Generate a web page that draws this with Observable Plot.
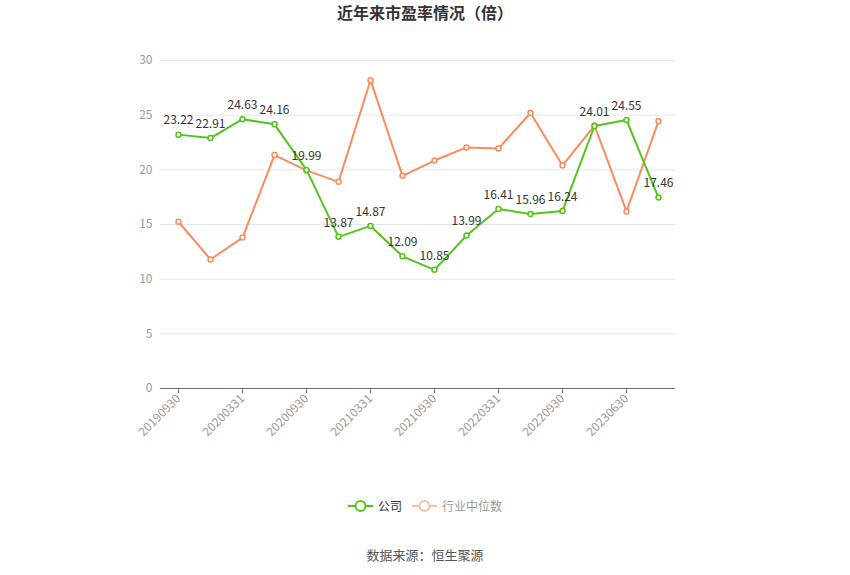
<!DOCTYPE html>
<html><head><meta charset="utf-8">
<script src="https://cdn.jsdelivr.net/npm/d3@7"></script>
<script src="https://cdn.jsdelivr.net/npm/@observablehq/plot@0.6"></script>
<style>
body{margin:0;background:#fff;font-family:"Noto Sans CJK SC","Noto Sans",sans-serif}
#wrap{position:relative;width:850px;height:575px;overflow:hidden}
#title{position:absolute;left:0;width:850px;top:0px;text-align:center;font-size:16px;font-weight:bold;color:#333}
#chart{position:absolute;left:0;top:0}
#legend{position:absolute;left:0;width:850px;top:497px;display:flex;justify-content:center;align-items:center;font-size:12px}
.item{display:flex;align-items:center;margin:0 5px}
.item span{margin-left:5px}
#caption{position:absolute;left:0;width:850px;top:545px;text-align:center;font-size:13px;color:#555}
</style></head>
<body>
<div id="wrap">
<div id="title">近年来市盈率情况（倍）</div>
<div id="chart"></div>
<div id="legend">
  <div class="item"><svg width="25" height="14"><line x1="0" y1="7" x2="25" y2="7" stroke="#52c41a" stroke-width="2"/><circle cx="12.5" cy="7" r="5" fill="#fff" stroke="#52c41a" stroke-width="2"/></svg><span style="color:#333">公司</span></div>
  <div class="item"><svg width="25" height="14"><line x1="0" y1="7" x2="25" y2="7" stroke="#fcbfa6" stroke-width="2"/><circle cx="12.5" cy="7" r="5" fill="#fff" stroke="#fcbfa6" stroke-width="2"/></svg><span style="color:#999">行业中位数</span></div>
</div>
<div id="caption">数据来源：恒生聚源</div>
</div>
<script>
const dates = ["20190930","20191231","20200331","20200630","20200930","20201231","20210331","20210630","20210930","20211231","20220331","20220630","20220930","20230331","20230630","20230930"];
const company = [23.22,22.91,24.63,24.16,19.99,13.87,14.87,12.09,10.85,13.99,16.41,15.96,16.24,24.01,24.55,17.46];
const industry = [15.25,11.8,13.8,21.35,19.95,18.9,28.2,19.45,20.85,22.05,21.95,25.2,20.4,24.05,16.2,24.45];
const yTicks = [0,5,10,15,20,25,30];
const xTickLabels = dates.filter((d,i)=>i%2===0);

const green = "#52c41a", orange = "#fa8b5c";
const comp = dates.map((d,i)=>({date:d, value:company[i]}));
const ind = dates.map((d,i)=>({date:d, value:industry[i]}));

const plot = Plot.plot({
  width: 850, height: 470,
  marginLeft: 160, marginRight: 175, marginTop: 60, marginBottom: 82,
  style: {fontFamily: '"Noto Sans CJK SC","Noto Sans",sans-serif', fontSize: "12px", background: "transparent"},
  x: {type: "point", domain: dates, padding: 0.5},
  y: {domain: [0, 30]},
  marks: [
    Plot.ruleY(yTicks.filter(t=>t>0), {stroke: "#e0e6f1", strokeWidth: 1}),
    Plot.axisY({ticks: yTicks, tickSize: 0, tickPadding: 8, fill: "#999", label: null, fontSize: 12}),
    Plot.axisX({ticks: xTickLabels, tickRotate: -45, tickSize: 5, stroke: "#6e7079", fill: "#999", label: null, fontSize: 12, tickPadding: 3}),
    Plot.ruleY([0], {stroke: "#6e7079", strokeWidth: 1}),
    Plot.lineY(ind, {x: "date", y: "value", stroke: orange, strokeWidth: 2}),
    Plot.lineY(comp, {x: "date", y: "value", stroke: green, strokeWidth: 2}),
    Plot.dot(ind, {x: "date", y: "value", r: 2.5, fill: "#fff", stroke: orange, strokeWidth: 1.5}),
    Plot.dot(comp, {x: "date", y: "value", r: 2.5, fill: "#fff", stroke: green, strokeWidth: 1.5}),
    Plot.text(comp, {x: "date", y: "value", text: d=>d.value.toFixed(2), dy: -14, fill: "#333", fontSize: 12})
  ]
});
document.getElementById("chart").appendChild(plot);
</script>
</body></html>
